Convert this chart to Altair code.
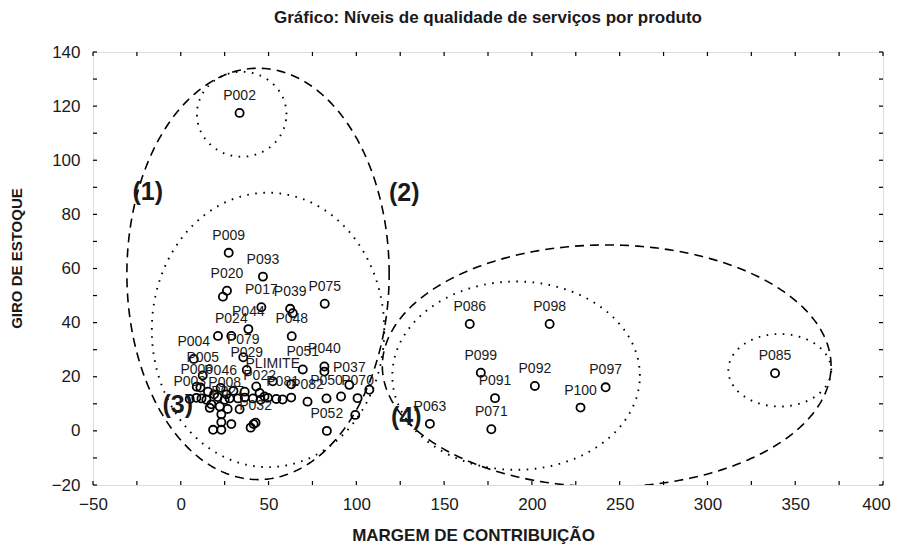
import altair as alt
import numpy as np
import pandas as pd

# ---------------- data ----------------
lab_codes = ["P002", "P009", "P093", "P020", "P017", "P039", "P075", "P044", "P024", "P048",
             "P004", "P079", "P005", "P029", "P051", "P040", "PLIMITE", "P037", "P006", "P046",
             "P022", "P003", "P008", "P081", "P082", "P050", "P070", "P027", "P032", "P052",
             "P086", "P098", "P099", "P092", "P097", "P091", "P100", "P071", "P063", "P085"]
lab_margem = [33.5, 27.3, 46.8, 26.3, 45.9, 62.3, 82.0, 38.5, 28.8, 63.2,
              7.4, 35.6, 12.5, 37.6, 69.5, 81.8, 52.4, 96.0, 9.1, 22.7,
              44.9, 5.1, 25.0, 58.0, 72.2, 83.0, 100.7, 26.7, 42.6, 83.2,
              164.6, 210.1, 170.9, 201.7, 242.0, 179.0, 227.7, 176.9, 141.9, 338.5]
lab_giro = [117.5, 65.8, 57.0, 51.8, 45.7, 45.1, 47.0, 37.6, 35.1, 35.0,
            26.6, 27.2, 20.5, 22.5, 22.7, 23.8, 18.3, 17.0, 16.3, 15.9,
            14.0, 11.8, 11.5, 11.6, 10.8, 12.0, 12.1, 8.1, 3.0, 0.0,
            39.5, 39.5, 21.5, 16.6, 16.1, 12.1, 8.6, 0.6, 2.6, 21.3]

# products whose labels are hidden in the crowd
unl_margem = [24.0, 63.8, 21.2, 8.9, 11.8, 14.6, 17.4, 21.0, 27.8, 32.6,
              36.4, 41.1, 45.5, 49.6, 54.4, 62.9, 47.7, 91.3, 11.2, 15.5,
              19.0, 36.4, 30.0, 26.0, 33.5, 22.2, 16.5, 23.1, 23.1, 18.4,
              23.1, 28.8, 39.8, 41.5, 107.4, 99.4, 81.8, 62.9, 43.0]
unl_giro = [49.6, 43.5, 35.1, 12.2, 12.0, 11.5, 9.8, 12.5, 12.0, 12.0,
            12.3, 12.0, 11.5, 12.2, 11.8, 12.3, 12.7, 12.7, 16.0, 14.5,
            13.5, 14.5, 14.8, 13.5, 8.0, 9.0, 8.5, 6.1, 3.2, 0.4,
            0.4, 2.5, 1.2, 2.5, 15.2, 5.9, 21.9, 17.2, 16.4]

# group ellipses: centre, semi-axes (data units), line style
ell_id = ["E1", "E2", "E3", "E4", "E5", "E6"]
ell_cx = [44.0, 34.7, 49.7, 242.6, 191.0, 341.2]
ell_cy = [58.0, 117.0, 37.3, 24.0, 20.4, 22.4]
ell_a = [74.7, 25.5, 66.2, 127.8, 70.5, 29.3]
ell_b = [76.0, 15.7, 50.7, 44.7, 34.8, 13.4]
ell_style = ["dashed", "dotted", "dotted", "dashed", "dotted", "dotted"]

grp_text = ["(1)", "(2)", "(3)", "(4)"]
grp_x = [-18.8, 127.3, -1.7, 128.4]
grp_y = [88.3, 88.0, 9.6, 5.2]

x_ticks = list(range(-50, 401, 25))
y_ticks = list(range(-20, 141, 10))

# ---------------- tables ----------------
pts = pd.DataFrame({
    "x": lab_margem + unl_margem,
    "y": lab_giro + unl_giro,
    "code": lab_codes + [""] * len(unl_margem),
})
labs = pd.DataFrame({"x": lab_margem, "y": lab_giro, "code": lab_codes})

t = np.linspace(0, 2 * np.pi, 361)
rows = []
for i, e in enumerate(ell_id):
    for k, tt in enumerate(t):
        rows.append({"ell": e, "k": k, "style": ell_style[i],
                     "x": ell_cx[i] + ell_a[i] * np.cos(tt),
                     "y": ell_cy[i] + ell_b[i] * np.sin(tt)})
ell = pd.DataFrame(rows)
grp = pd.DataFrame({"x": grp_x, "y": grp_y, "t": grp_text})
xt = pd.DataFrame({"x": x_ticks})
yt = pd.DataFrame({"y": y_ticks})

FONT = "Liberation Sans"
INK = "#1a1a1a"
W, H = 790, 433

xs = alt.Scale(domain=[-50, 400], nice=False, zero=False)
ys = alt.Scale(domain=[-20, 140], nice=False, zero=False)
xaxis = alt.Axis(title="MARGEM DE CONTRIBUIÇÃO", values=list(range(-50, 401, 50)),
                 grid=False, ticks=False, tickSize=0, domain=False,
                 labelFontSize=17, labelFont=FONT, labelColor=INK, labelPadding=11,
                 labelOffset=alt.condition("datum.value == 400", alt.value(-7), alt.value(0)),
                 titleFontSize=17, titleFont=FONT, titleFontWeight="bold", titleColor=INK,
                 titlePadding=15, titleX=380, titleAlign="center", labelFlush=False)
yaxis = alt.Axis(title="GIRO DE ESTOQUE", values=list(range(-20, 141, 20)),
                 grid=False, ticks=False, tickSize=0, domain=False,
                 labelFontSize=17, labelFont=FONT, labelColor=INK, labelPadding=13,
                 titleFontSize=15, titleFont=FONT, titleFontWeight="bold", titleColor=INK,
                 titlePadding=27, titleY=206, titleAlign="center", labelFlush=False)

def X():
    return alt.X("x:Q", scale=xs, axis=xaxis)

def Y():
    return alt.Y("y:Q", scale=ys, axis=yaxis)

dashed = alt.Chart(ell[ell["style"] == "dashed"]).mark_line(
    color="black", strokeWidth=1.6, strokeDash=[9, 6], clip=True
).encode(x=X(), y=Y(), detail="ell:N", order="k:Q")

dotted = alt.Chart(ell[ell["style"] == "dotted"]).mark_line(
    color="black", strokeWidth=1.9, strokeDash=[1.6, 6.5], clip=True
).encode(x=X(), y=Y(), detail="ell:N", order="k:Q")

points = alt.Chart(pts).mark_point(
    shape="circle", filled=False, color="black", strokeWidth=1.8, size=66, opacity=1
).encode(x=X(), y=Y())

labels = alt.Chart(labs).mark_text(
    font=FONT, fontSize=14, color=INK, baseline="alphabetic", align="center", dy=-13
).encode(x=X(), y=Y(), text="code:N")

groups = alt.Chart(grp).mark_text(
    font=FONT, fontSize=25, fontWeight="bold", color=INK, baseline="middle", align="center"
).encode(x=X(), y=Y(), text="t:N")

tick_b = alt.Chart(xt).mark_rule(color="black", strokeWidth=1.2).encode(
    x=X(), y=alt.value(H), y2=alt.value(H - 4))
tick_t = alt.Chart(xt).mark_rule(color="black", strokeWidth=1.2).encode(
    x=X(), y=alt.value(0), y2=alt.value(4))
tick_l = alt.Chart(yt).mark_rule(color="black", strokeWidth=1.2).encode(
    y=Y(), x=alt.value(0), x2=alt.value(4))
tick_r = alt.Chart(yt).mark_rule(color="black", strokeWidth=1.2).encode(
    y=Y(), x=alt.value(W), x2=alt.value(W - 4))

chart = alt.layer(
    dashed, dotted, tick_b, tick_t, tick_l, tick_r, points, labels, groups
).properties(
    width=W, height=H,
    title=alt.TitleParams("Gráfico: Níveis de qualidade de serviços por produto",
                          fontSize=17, fontWeight="bold", font=FONT, color=INK,
                          anchor="middle", offset=16),
    autosize=alt.AutoSizeParams(type="none"),
    padding={"left": 85, "top": 44, "right": 9, "bottom": 60},
).configure_view(stroke="black", strokeWidth=1.8).configure(background="white")

chart.save("out.html", embed_options={"renderer": "svg", "actions": False})
